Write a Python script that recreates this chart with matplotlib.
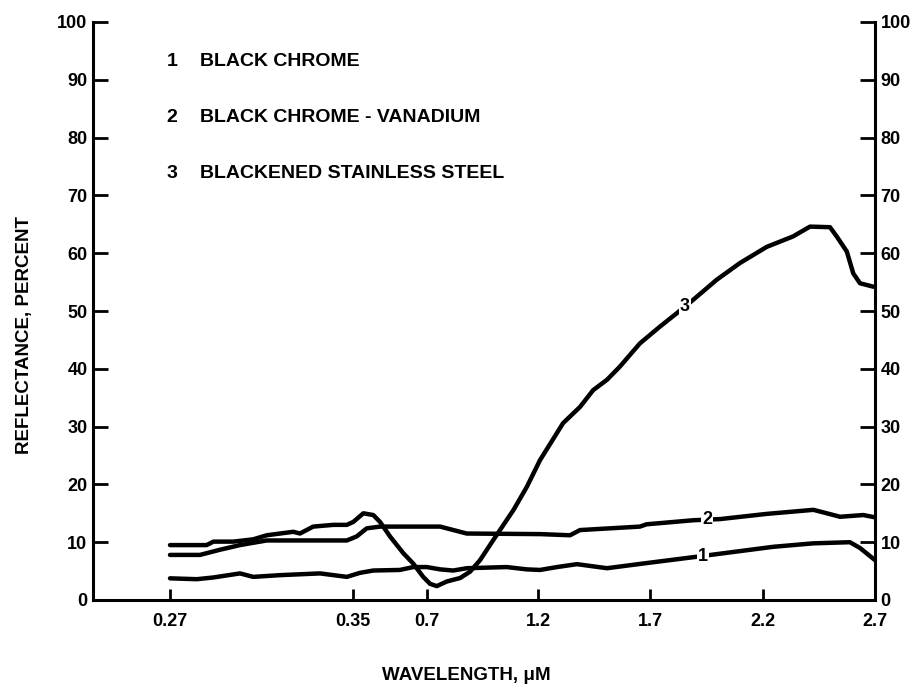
import numpy as np
import matplotlib
matplotlib.use("Agg")
import matplotlib.pyplot as plt

# ---------------- data ----------------
x_ticks = [0.27, 0.35, 0.7, 1.2, 1.7, 2.2, 2.7]
x_tick_labels = ["0.27", "0.35", "0.7", "1.2", "1.7", "2.2", "2.7"]
y_ticks = [0, 10, 20, 30, 40, 50, 60, 70, 80, 90, 100]

legend_numbers = ["1", "2", "3"]
legend_names = ["BLACK CHROME", "BLACK CHROME - VANADIUM", "BLACKENED STAINLESS STEEL"]

c1_wl = [0.27, 0.2817, 0.289, 0.3006, 0.3064, 0.3181, 0.3356, 0.3473, 0.383, 0.446,
         0.572, 0.635, 0.699, 0.759, 0.818, 0.879, 1.059, 1.149, 1.209, 1.285,
         1.374, 1.508, 1.687, 1.890, 2.067, 2.245, 2.423, 2.588, 2.633, 2.7]
c1_r = [3.75, 3.6, 3.9, 4.6, 4.0, 4.3, 4.6, 4.0, 4.7, 5.1,
        5.2, 5.7, 5.7, 5.3, 5.1, 5.5, 5.7, 5.3, 5.2, 5.7,
        6.2, 5.5, 6.4, 7.4, 8.3, 9.2, 9.8, 10.0, 9.0, 6.9]

c2_wl = [0.27, 0.2831, 0.2919, 0.3006, 0.3064, 0.3123, 0.3326, 0.3473, 0.3675, 0.415,
         0.478, 0.635, 0.759, 0.879, 1.209, 1.343, 1.3875, 1.655, 1.685, 1.892,
         2.010, 2.217, 2.425, 2.485, 2.544, 2.648, 2.7]
c2_r = [7.8, 7.8, 8.7, 9.5, 9.9, 10.3, 10.3, 10.3, 11.0, 12.4,
        12.7, 12.7, 12.7, 11.5, 11.4, 11.2, 12.1, 12.7, 13.1, 13.8,
        14.0, 14.9, 15.6, 15.0, 14.4, 14.7, 14.3]

c3_wl = [0.27, 0.286, 0.289, 0.2977, 0.3064, 0.3123, 0.3239, 0.3268, 0.3326, 0.3414,
         0.3473, 0.351, 0.399, 0.446, 0.478, 0.525, 0.588, 0.635, 0.682, 0.714,
         0.744, 0.789, 0.849, 0.894, 0.939, 0.999, 1.09, 1.150, 1.209, 1.312,
         1.3875, 1.446, 1.508, 1.566, 1.655, 1.744, 1.818, 1.890, 1.995, 2.098,
         2.217, 2.334, 2.410, 2.499, 2.529, 2.574, 2.603, 2.633, 2.693]
c3_r = [9.5, 9.5, 10.1, 10.1, 10.5, 11.2, 11.8, 11.5, 12.7, 13.0,
        13.0, 13.5, 15.0, 14.7, 13.5, 11.0, 8.1, 6.3, 4.0, 2.8,
        2.4, 3.2, 3.8, 4.9, 6.9, 10.4, 15.6, 19.6, 24.2, 30.6,
        33.4, 36.3, 38.1, 40.4, 44.4, 47.3, 49.6, 51.9, 55.4, 58.3,
        61.1, 62.9, 64.6, 64.5, 62.9, 60.3, 56.5, 54.8, 54.2]

# label anchor points on the curves (wavelength, reflectance)
curve_label_wl = [1.935, 1.952, 1.855]
curve_label_r = [7.6, 13.9, 50.8]

# ---------------- piecewise wavelength scale (expanded UV part) ----------------
SCALE_WL = [0.2363, 0.27, 0.35, 0.7, 1.2, 1.7, 2.2, 2.7]
SCALE_POS = [93, 170, 353, 427, 538, 650, 763, 875]


def fwd(x):
    return np.interp(x, SCALE_WL, SCALE_POS)


def inv(p):
    return np.interp(p, SCALE_POS, SCALE_WL)


FONT = ["Liberation Sans", "DejaVu Sans"]
plt.rcParams["font.family"] = FONT
plt.rcParams["font.weight"] = "bold"

fig = plt.figure(figsize=(9.12, 6.90), dpi=100)
ax = fig.add_axes([93 / 912, 1 - 600 / 690, 782 / 912, 578 / 690])
ax.set_xscale("function", functions=(fwd, inv))
ax.set_xlim(SCALE_WL[0], 2.7)
ax.set_ylim(0, 100)

lw = 3.2
for wl, r in [(c1_wl, c1_r), (c2_wl, c2_r), (c3_wl, c3_r)]:
    ax.plot(wl, r, color="black", lw=lw, solid_capstyle="round", solid_joinstyle="round")

for n, wl, r in zip(legend_numbers, curve_label_wl, curve_label_r):
    ax.text(wl, r, n, ha="center", va="center", fontsize=13, fontweight="bold",
            bbox=dict(facecolor="white", edgecolor="none", pad=0.5))

# spines
for s in ["left", "right", "bottom"]:
    ax.spines[s].set_linewidth(2.2)
ax.spines["top"].set_visible(False)

ax.set_xticks(x_ticks)
ax.set_xticklabels(x_tick_labels)
ax.set_yticks(y_ticks)
ax.xaxis.set_minor_locator(matplotlib.ticker.NullLocator())
ax.tick_params(axis="x", direction="in", length=8, width=2, labelsize=13, pad=9)
ax.tick_params(axis="y", direction="in", length=11, width=2, labelsize=13,
               left=True, right=True, labelleft=True, labelright=True, pad=4)
for lab in ax.get_xticklabels() + ax.get_yticklabels():
    lab.set_fontweight("bold")

ax.set_ylabel("REFLECTANCE, PERCENT", fontsize=13.5, fontweight="bold", va="center")
ax.yaxis.set_label_coords(-0.088, 0.4585)
ax.set_xlabel("WAVELENGTH, \u03bcM", fontsize=13.5, fontweight="bold", va="center")
ax.xaxis.set_label_coords(0.478, -0.1298)

# legend as text block
leg_y = [62, 118, 174]
for n, name, yy in zip(legend_numbers, legend_names, leg_y):
    fig.text(172 / 912, 1 - yy / 690, n, ha="center", va="center", fontsize=14, fontweight="bold")
    fig.text(200 / 912, 1 - yy / 690, name, ha="left", va="center", fontsize=14, fontweight="bold")

fig.savefig("out.png", dpi=100, facecolor="white")
